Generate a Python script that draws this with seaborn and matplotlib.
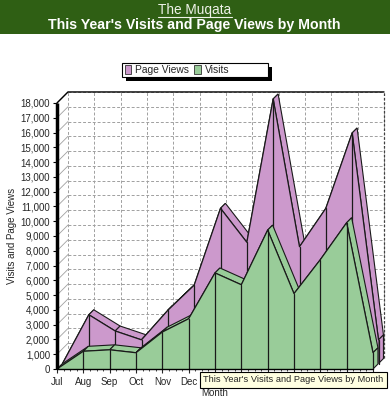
import numpy as np
import pandas as pd
import matplotlib
matplotlib.use("Agg")
import matplotlib.pyplot as plt
from matplotlib.patches import Rectangle, Polygon
from matplotlib.lines import Line2D
import seaborn as sns

# ---- data ----
months = ["Jul", "Aug", "Sep", "Oct", "Nov", "Dec", "Jan", "Feb", "Mar", "Apr", "May", "Jun", "Jul"]
page_views = [0, 3300, 2200, 1600, 3600, 5300, 10500, 8200, 17900, 7900, 10500, 15600, 1600]
visits = [0, 1200, 1300, 1100, 2500, 3400, 6500, 5700, 9400, 5100, 7400, 9900, 1100]
y_ticks = list(range(0, 18001, 1000))
series_names = ["Page Views", "Visits"]
series_colors = ["#cc99cc", "#99cc99"]

sns.set_style("white")
plt.rcParams["font.family"] = ["Liberation Sans", "DejaVu Sans"]

W, H = 390, 400
fig = plt.figure(figsize=(W / 100, H / 100), dpi=100)
fig.patch.set_facecolor("white")

# header band
fig.patches.append(Rectangle((0, 1 - 34 / H), 1, 34 / H, transform=fig.transFigure,
                             facecolor="#2f5f14", edgecolor="none", zorder=0))
fig.text(195 / W, 1 - 10 / H, "The Muqata", color="#eef2e8", fontsize=9.8,
         ha="center", va="center")
fig.add_artist(Line2D([158 / W, 232 / W], [1 - 16.5 / H] * 2, transform=fig.transFigure,
                      color="#eef2e8", lw=0.8))
fig.text(194 / W, 1 - 25 / H, "This Year's Visits and Page Views by Month", color="white",
         fontsize=10.2, fontweight="bold", ha="center", va="center")

# axes geometry (pixels)
left, right, bottom, top = 57, 384, 369, 92
ax = fig.add_axes([left / W, 1 - bottom / H, (right - left) / W, (bottom - top) / H])
n = len(months)
px_per_month = (373 - 57) / (n - 1)
px_per_unit = 14.78 / 1000
ax.set_xlim(0, (right - left) / px_per_month)
ax.set_ylim(0, (bottom - top) / px_per_unit)
DX = 11 / px_per_month
DY = 11 / px_per_unit
ymax = y_ticks[-1]
xs = np.arange(n)

for s in ax.spines.values():
    s.set_visible(False)
ax.set_facecolor("white")

# back wall grid
grid_kw = dict(color="#a0a0a0", lw=0.7, ls=(0, (3, 2)), zorder=1)
for v in y_ticks:
    ax.plot([DX, n - 1 + DX], [v + DY, v + DY], **grid_kw)
    ax.plot([0, DX], [v, v + DY], color="#a0a0a0", lw=0.6, zorder=1)
for i in xs:
    ax.plot([i + DX, i + DX], [DY, ymax + DY], **grid_kw)
# frame lines
ax.plot([0, DX, n - 1 + DX], [ymax, ymax + DY, ymax + DY], color="black", lw=1.0, zorder=2)
ax.plot([n - 1 + DX, n - 1 + DX], [DY, ymax + DY], color="#404040", lw=0.9,
        ls=(0, (2, 1.5)), zorder=2)


def ribbon(values, d0, d1, color, z):
    y = np.asarray(values, dtype=float)
    fx, fy = xs + d0 * DX, y + d0 * DY
    bx, by = xs + d1 * DX, y + d1 * DY
    base = d0 * DY
    ec = "#1a1a1a"
    for i in range(n - 1):
        poly = Polygon([(fx[i], fy[i]), (fx[i + 1], fy[i + 1]), (bx[i + 1], by[i + 1]), (bx[i], by[i])],
                       closed=True, facecolor=color, edgecolor=ec, lw=0.8, zorder=z, clip_on=False)
        ax.add_patch(poly)
    end = Polygon([(fx[-1], base), (fx[-1], fy[-1]), (bx[-1], by[-1]), (bx[-1], d1 * DY)],
                  closed=True, facecolor=color, edgecolor=ec, lw=0.8, zorder=z, clip_on=False)
    ax.add_patch(end)
    ax.fill_between(fx, base, fy, facecolor=color, edgecolor="none", zorder=z + 0.1, clip_on=False)
    df = pd.DataFrame({"x": fx, "y": fy})
    sns.lineplot(data=df, x="x", y="y", ax=ax, color=ec, lw=0.9, zorder=z + 0.2,
                 estimator=None, sort=False)
    for i in range(1, n):
        ax.plot([fx[i], fx[i]], [base, fy[i]], color=ec, lw=0.9, zorder=z + 0.2)


ribbon(page_views, 0.5, 0.95, series_colors[0], 3)
ribbon(visits, 0.0, 0.45, series_colors[1], 5)
for l in ax.get_lines():
    l.set_clip_on(False)

# axes lines
ax.plot([0, 0], [0, ymax], color="black", lw=2.5, zorder=8, clip_on=False, solid_capstyle="butt")
ax.plot([0, n - 1], [0, 0], color="black", lw=1.0, zorder=8, clip_on=False)

ax.set_yticks(y_ticks)
ax.set_yticklabels([f"{v:,}" for v in y_ticks], fontsize=7)
ax.set_xticks(xs)
# labels after Dec are hidden behind the tooltip in the reference
ax.set_xticklabels([m if i < 6 else "" for i, m in enumerate(months)], fontsize=7)
ax.set_xticks(np.arange(0, n - 1 + 0.01, 0.25), minor=True)
ax.tick_params(axis="y", direction="out", length=3, width=0.8, pad=2, color="black", left=True)
ax.tick_params(axis="x", which="major", direction="out", length=3, width=0.8, pad=3, bottom=True)
ax.tick_params(axis="x", which="minor", direction="out", length=1.5, width=0.6, bottom=True)
ax.set_xlabel("")
ax.set_ylabel("")
ax.grid(False)

fig.text(12 / W, 1 - 236 / H, "Visits and Page Views", rotation=90, fontsize=7,
         ha="center", va="center")
fig.text(201 / W, 1 - 393 / H, "Month", fontsize=7, ha="left", va="center")

# legend: shadow + frame drawn as patches, entries via legend
lx0, lx1, ly0, ly1 = 122, 268, 63, 77
fig.patches.append(Rectangle(((lx0 + 4) / W, 1 - (ly1 + 4) / H), (lx1 - lx0) / W, (ly1 - ly0) / H,
                             transform=fig.transFigure, facecolor="black", edgecolor="none", zorder=1))
fig.patches.append(Rectangle((lx0 / W, 1 - ly1 / H), (lx1 - lx0) / W, (ly1 - ly0) / H,
                             transform=fig.transFigure, facecolor="white", edgecolor="black",
                             lw=0.8, zorder=2))
handles = [Rectangle((0, 0), 1, 1, facecolor=c, edgecolor="#333333", lw=0.6) for c in series_colors]
leg = fig.legend(handles, series_names, loc="center left", bbox_to_anchor=(123 / W, 1 - 70 / H),
                 ncol=2, fontsize=7.4, frameon=False, handlelength=0.6, handleheight=0.9,
                 handletextpad=0.4, columnspacing=0.5, borderpad=0.2, borderaxespad=0)
leg.set_zorder(3)

# tooltip
fig.text(203 / W, 1 - 380 / H, "This Year's Visits and Page Views by Month", fontsize=6.7,
         ha="left", va="center", zorder=20,
         bbox=dict(facecolor="#ffffe1", edgecolor="black", boxstyle="square,pad=0.35", lw=0.8))

fig.savefig("out.png", dpi=100, facecolor="white")
